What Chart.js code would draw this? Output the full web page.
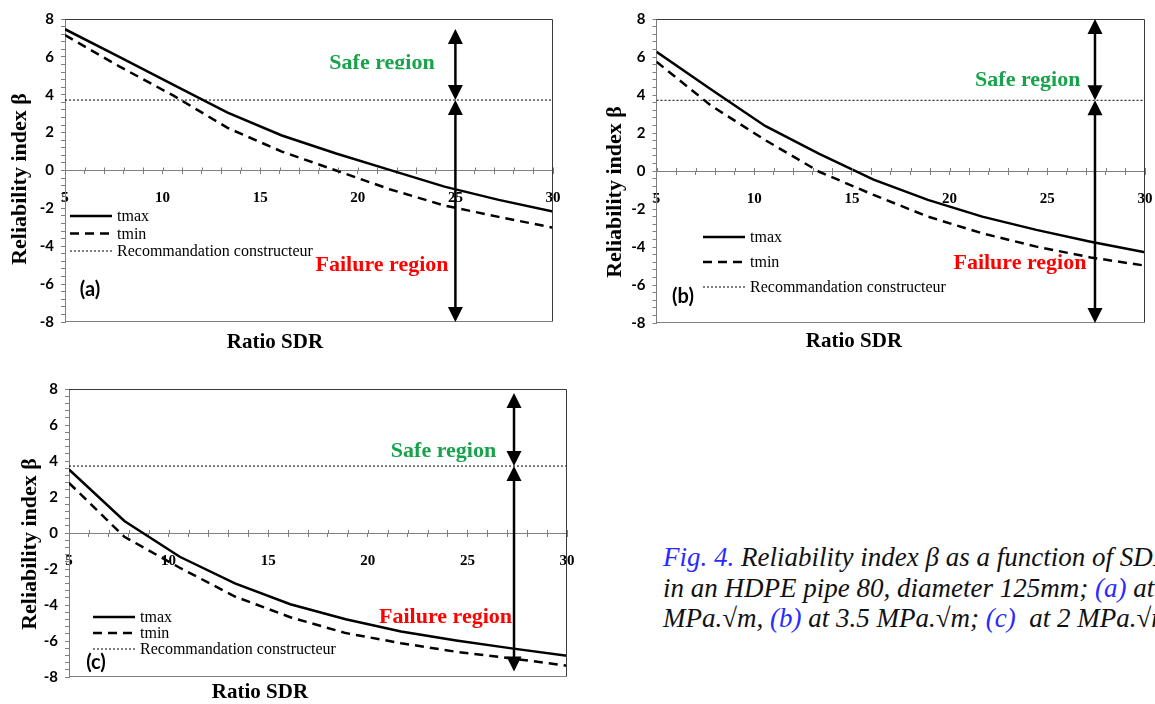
<!DOCTYPE html>
<html>
<head>
<meta charset="utf-8">
<script src="https://cdn.jsdelivr.net/npm/chart.js@4.4.1/dist/chart.umd.min.js"></script>
<style>
  html, body { margin: 0; padding: 0; background: #fff; overflow: hidden; }
  body { width: 1155px; height: 704px; position: relative; }
  canvas { position: absolute; }
  #caption {
    position: absolute; left: 663px; top: 542px; white-space: nowrap;
    font-family: 'Liberation Serif', serif; font-style: italic; font-size: 27px; line-height: 30.5px; color: #111;
  }
  #caption .b { color: #2a2aff; }
</style>
</head>
<body>
<canvas id="chartA"></canvas>
<canvas id="chartB"></canvas>
<canvas id="chartC"></canvas>
<div id="caption">
  <div><span class="b">Fig. 4.</span> Reliability index β as a function of SDR</div>
  <div>in an HDPE pipe 80, diameter 125mm; <span class="b">(a)</span> at</div>
  <div>MPa.√m, <span class="b">(b)</span> at 3.5 MPa.√m; <span class="b">(c)</span>&nbsp; at 2 MPa.√m</div>
</div>
<script>
// SDR values where the curves have their points
const sdr = [5, 7.78, 10.56, 13.33, 16.11, 18.89, 21.67, 24.44, 27.22, 30]

// (a)
const aTmax = [7.46, 6.0, 4.52, 3.06, 1.85, 0.9, 0.02, -0.85, -1.55, -2.17]
const aTmin = [7.15, 5.5, 3.95, 2.25, 1.0, 0.0, -1.0, -1.85, -2.45, -3.02]
// (b)
const bTmax = [6.27, 4.3, 2.37, 0.9, -0.45, -1.52, -2.4, -3.1, -3.72, -4.28]
const bTmin = [5.75, 3.45, 1.63, -0.04, -1.26, -2.4, -3.28, -3.98, -4.55, -4.98]
// (c)
const cTmax = [3.53, 0.67, -1.32, -2.8, -3.96, -4.79, -5.47, -5.97, -6.41, -6.82]
const cTmin = [2.78, -0.21, -1.93, -3.53, -4.68, -5.56, -6.12, -6.6, -6.97, -7.37]

const recommandation = 3.72
const legendLabels = ['tmax', 'tmin', 'Recommandation constructeur']

// double arrows: x, top, bottom (junction at the recommendation line)
const arrowX = [25, 27.44, 27.34]
const arrowTop = [7.47, 8, 7.78]
const arrowBottom = [-8, -8, -7.7]

const panels = [
  {
    el: 'chartA', box: [0, 0, 575, 360], pad: {left: 0, top: 19, right: 22, bottom: 38}, yWidth: 65,
    tmax: aTmax, tmin: aTmin, arrow: 0, tag: '(a)',
    safe: [21.24, 5.68], fail: [21.24, -5.0], safeClip: 5.35,
    legend: {x: 70, y: 216, gap: 17.5}, tagPos: [90, 290], yTitle: [20, 179], xTitle: [275, 343]
  },
  {
    el: 'chartB', box: [580, 0, 575, 360], pad: {left: 0, top: 19, right: 10, bottom: 37}, yWidth: 76.5,
    tmax: bTmax, tmin: bTmin, arrow: 1, tag: '(b)',
    safe: [24.0, 4.79], fail: [23.6, -4.84], safeClip: null,
    legend: {x: 123, y: 237, gap: 25}, tagPos: [103, 297], yTitle: [35, 192], xTitle: [274, 342]
  },
  {
    el: 'chartC', box: [0, 370, 580, 334], pad: {left: 0, top: 19, right: 13, bottom: 27}, yWidth: 69,
    tmax: cTmax, tmin: cTmin, arrow: 2, tag: '(c)',
    safe: [23.8, 4.56], fail: [23.9, -4.67], safeClip: null,
    legend: {x: 93, y: 247, gap: 16}, tagPos: [96, 293], yTitle: [30, 174], xTitle: [260, 323]
  }
]

const serif = "'Liberation Serif', 'Times New Roman', serif"
const sans = "Lato, 'Liberation Sans', sans-serif"

function drawArrow(ctx, x, y1, y2) {
  // line from y1 (top) to y2 (bottom) with heads at both ends
  const hw = 7.5, hh = 15
  ctx.beginPath()
  ctx.moveTo(x, y1 + hh - 1)
  ctx.lineTo(x, y2 - hh + 1)
  ctx.stroke()
  ctx.beginPath()
  ctx.moveTo(x, y1); ctx.lineTo(x - hw, y1 + hh); ctx.lineTo(x + hw, y1 + hh); ctx.closePath()
  ctx.fill()
  ctx.beginPath()
  ctx.moveTo(x, y2); ctx.lineTo(x - hw, y2 - hh); ctx.lineTo(x + hw, y2 - hh); ctx.closePath()
  ctx.fill()
}

const overlay = {
  id: 'overlay',
  afterDraw(chart) {
    const p = chart.options.plugins.overlay.panel
    const {ctx, chartArea: ca} = chart
    const x = chart.scales.x, y = chart.scales.y
    ctx.save()

    // frame
    ctx.lineWidth = 1
    ctx.strokeStyle = '#3a3a3a'
    ctx.beginPath()
    ctx.moveTo(ca.left, Math.round(ca.top) + 0.5)
    ctx.lineTo(Math.round(ca.right) - 0.5, Math.round(ca.top) + 0.5)
    ctx.lineTo(Math.round(ca.right) - 0.5, ca.bottom)
    ctx.stroke()
    ctx.strokeStyle = '#7f7f7f'
    ctx.beginPath()
    ctx.moveTo(ca.left, Math.round(ca.bottom) - 0.5)
    ctx.lineTo(ca.right, Math.round(ca.bottom) - 0.5)
    ctx.stroke()

    // small marks above the zero axis too, so the x ticks cross it
    const zy = y.getPixelForValue(0)
    ctx.beginPath()
    x.ticks.forEach(t => {
      const px = Math.round(x.getPixelForValue(t.value)) + 0.5
      ctx.moveTo(px, zy - 3); ctx.lineTo(px, zy)
    })
    ctx.stroke()

    // arrows
    const i = p.arrow
    const ax = x.getPixelForValue(arrowX[i])
    const jy = y.getPixelForValue(recommandation)
    ctx.strokeStyle = '#000'; ctx.fillStyle = '#000'; ctx.lineWidth = 2.5
    drawArrow(ctx, ax, y.getPixelForValue(arrowTop[i]), jy)
    drawArrow(ctx, ax, jy, y.getPixelForValue(arrowBottom[i]))

    // region texts
    ctx.font = 'bold 22px ' + serif
    ctx.textAlign = 'center'; ctx.textBaseline = 'middle'
    ctx.save()
    if (p.safeClip !== null) {
      ctx.beginPath()
      ctx.rect(0, 0, chart.width, y.getPixelForValue(p.safeClip))
      ctx.clip()
    }
    ctx.fillStyle = '#16a34a'
    ctx.fillText('Safe region', x.getPixelForValue(p.safe[0]), y.getPixelForValue(p.safe[1]))
    ctx.restore()
    ctx.font = 'bold 22px ' + serif
    ctx.textAlign = 'center'; ctx.textBaseline = 'middle'
    ctx.fillStyle = '#ff0000'
    ctx.fillText('Failure region', x.getPixelForValue(p.fail[0]), y.getPixelForValue(p.fail[1]))

    // legend
    const lg = p.legend
    ctx.font = '16px ' + serif
    ctx.textAlign = 'left'
    ctx.fillStyle = '#000'
    const styles = [
      {w: 2.5, dash: []},
      {w: 2.5, dash: [9, 6]},
      {w: 1, dash: [2, 2]}
    ]
    legendLabels.forEach((lab, k) => {
      const ly = lg.y + k * lg.gap
      ctx.lineWidth = styles[k].w
      ctx.setLineDash(styles[k].dash)
      ctx.beginPath()
      ctx.moveTo(lg.x, ly); ctx.lineTo(lg.x + 42, ly)
      ctx.stroke()
      ctx.fillText(lab, lg.x + 47, ly + 1)
    })
    ctx.setLineDash([])

    // panel tag
    ctx.font = 'bold 20px ' + sans
    ctx.textAlign = 'center'
    ctx.fillText(p.tag, p.tagPos[0], p.tagPos[1])

    // axis titles
    ctx.font = 'bold 21px ' + serif
    ctx.fillText('Ratio SDR', p.xTitle[0], p.xTitle[1])
    ctx.save()
    ctx.translate(p.yTitle[0], p.yTitle[1])
    ctx.rotate(-Math.PI / 2)
    ctx.font = 'bold 22px ' + serif
    ctx.fillText('Reliability index β', 0, 0)
    ctx.restore()

    ctx.restore()
  }
}

panels.forEach(p => {
  const cv = document.getElementById(p.el)
  cv.style.left = p.box[0] + 'px'
  cv.style.top = p.box[1] + 'px'
  cv.style.width = p.box[2] + 'px'
  cv.style.height = p.box[3] + 'px'
  cv.width = p.box[2]
  cv.height = p.box[3]

  new Chart(cv, {
    type: 'line',
    data: {
      datasets: [
        {
          label: legendLabels[0],
          data: sdr.map((v, k) => ({x: v, y: p.tmax[k]})),
          borderColor: '#000', borderWidth: 2.5, pointRadius: 0, tension: 0
        },
        {
          label: legendLabels[1],
          data: sdr.map((v, k) => ({x: v, y: p.tmin[k]})),
          borderColor: '#000', borderWidth: 2.5, borderDash: [9, 6], pointRadius: 0, tension: 0
        },
        {
          label: legendLabels[2],
          data: [{x: sdr[0], y: recommandation}, {x: sdr[sdr.length - 1], y: recommandation}],
          borderColor: '#000', borderWidth: 1, borderDash: [2, 2], pointRadius: 0
        }
      ]
    },
    options: {
      responsive: false,
      animation: false,
      events: [],
      layout: {padding: p.pad},
      plugins: {
        legend: {display: false},
        tooltip: {enabled: false},
        overlay: {panel: p}
      },
      scales: {
        x: {
          type: 'linear',
          position: {y: 0},
          min: 5, max: 30,
          // let the end labels hang out of the plot, like the original
          afterFit(scale) { scale.paddingLeft = 0; scale.paddingRight = 0 },
          border: {color: '#7f7f7f', width: 1},
          grid: {drawOnChartArea: false, drawTicks: true, tickLength: 3, color: '#7f7f7f'},
          ticks: {
            stepSize: 1, autoSkip: false, maxRotation: 0, padding: 16,
            color: '#000', font: {family: serif, size: 15, weight: 'bold'},
            callback: v => (v % 5 === 0 ? String(v) : '')
          }
        },
        y: {
          type: 'linear',
          min: -8, max: 8,
          afterFit(scale) { scale.width = p.yWidth },
          border: {color: '#7f7f7f', width: 1},
          grid: {drawOnChartArea: false, drawTicks: true, tickLength: 4, color: '#7f7f7f'},
          ticks: {
            stepSize: 0.4, autoSkip: false, maxTicksLimit: 100, padding: 7,
            color: '#000', font: {family: sans, size: 15, weight: 'bold'},
            callback: v => {
              const r = Math.round(v / 2) * 2
              return Math.abs(v - r) < 1e-6 ? String(r) : ''
            }
          }
        }
      }
    },
    plugins: [overlay]
  })
})
</script>
</body>
</html>
